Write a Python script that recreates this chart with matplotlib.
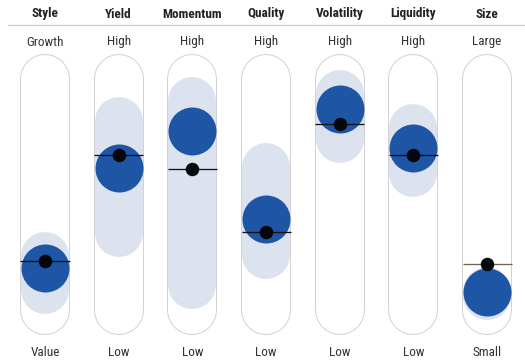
import matplotlib
matplotlib.use("Agg")
import matplotlib.pyplot as plt

# ---- data (percentile position, 0 = bottom label, 100 = top label) ----
categories = ["Style", "Yield", "Momentum", "Quality", "Volatility", "Liquidity", "Size"]
top_labels = ["Growth", "High", "High", "High", "High", "High", "Large"]
bottom_labels = ["Value", "Low", "Low", "Low", "Low", "Low", "Small"]
range_high = [23.4, 81.8, 90.5, 61.8, 93.5, 78.8, 8.3]
range_low = [8.7, 33.3, 10.8, 23.7, 74.0, 59.3, 6.1]
fund = [18.2, 61.3, 77.5, 39.2, 87.0, 70.3, 7.8]
benchmark = [21.2, 67.1, 61.0, 33.6, 80.5, 67.1, 19.8]

# ---- layout ----
W, H, DPI = 525, 363, 100
PT = 72.0 / DPI               # points per pixel
col_x0, col_dx = 45.0, 73.67  # pixel centre of first column, spacing
y_top_px, y_bot_px = 79.0, 310.0
px_per_unit = (y_bot_px - y_top_px) / 100.0

plt.rcParams['font.family'] = ['Roboto Condensed', 'Archivo Narrow', 'DejaVu Sans']

fig = plt.figure(figsize=(W / DPI, H / DPI), dpi=DPI)
ax = fig.add_axes([0, 0, 1, 1])
ax.set_xlim(-col_x0 / col_dx, (W - col_x0) / col_dx)
ax.set_ylim(-(H - y_bot_px) / px_per_unit, 100 + y_top_px / px_per_unit)
ax.axis("off")

blue = "#1f55a5"
band_col = "#dce3ef"
half_w = 24.5 / col_dx

for i, cat in enumerate(categories):
    # capsule outline and fill
    ax.plot([i, i], [0, 100], color="#d2d2d2", lw=50 * PT, solid_capstyle="round", zorder=1)
    ax.plot([i, i], [0, 100], color="white", lw=48 * PT, solid_capstyle="round", zorder=2)
    # range band
    ax.plot([i, i], [range_low[i], range_high[i]], color=band_col, lw=48 * PT,
            solid_capstyle="round", zorder=3)
    # fund position
    ax.scatter([i], [fund[i]], s=(48 * PT) ** 2, color=blue, linewidths=0, zorder=4)
    # benchmark line + dot
    lc = "#6e6258" if cat == "Size" else "#111111"
    ax.plot([i - half_w, i + half_w], [benchmark[i], benchmark[i]], color=lc,
            lw=1.3 * PT, zorder=5, solid_capstyle="butt")
    ax.scatter([i], [benchmark[i]], s=(13.5 * PT) ** 2, color="#05070d", linewidths=0, zorder=6)

    xf = (col_x0 + i * col_dx) / W
    fig.text(xf, 1 - 14 / H, cat, ha="center", va="center", fontsize=9.5,
             fontweight="bold", color="#222222")
    fig.text(xf, 1 - 42 / H, top_labels[i], ha="center", va="center", fontsize=9.5,
             color="#333333")
    fig.text(xf, 1 - 352 / H, bottom_labels[i], ha="center", va="center", fontsize=9.5,
             color="#333333")

# header rule
fig.add_artist(plt.Line2D([8 / W, 1], [1 - 25 / H, 1 - 25 / H], transform=fig.transFigure,
                          color="#c8c8c8", lw=1.2 * PT))

fig.savefig("out.png", dpi=DPI)
